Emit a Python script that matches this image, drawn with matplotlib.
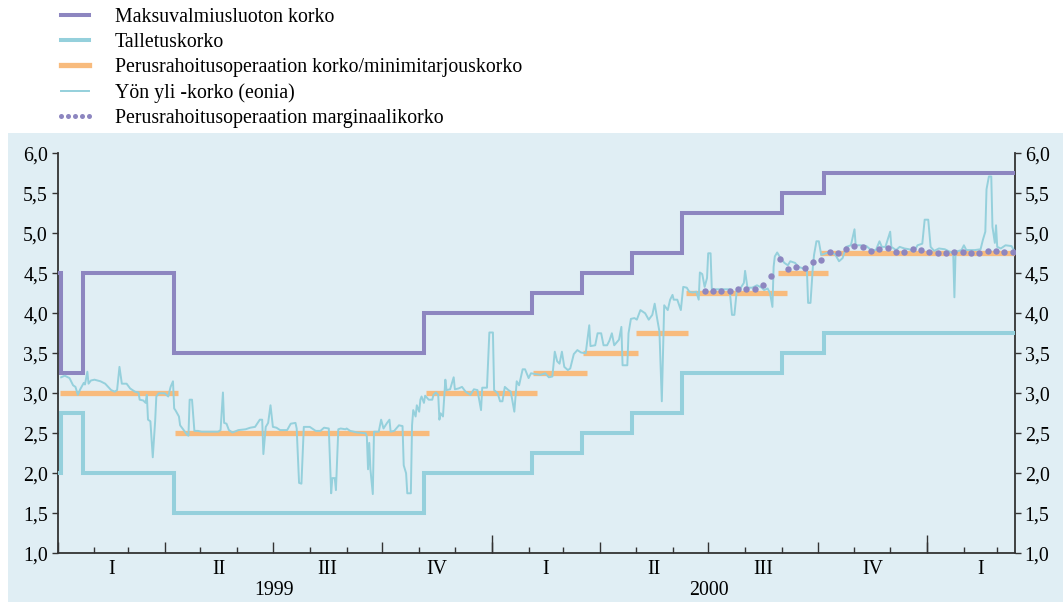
import numpy as np
import pandas as pd
import matplotlib
matplotlib.use("Agg")
from matplotlib import pyplot as plt
import matplotlib.dates as mdates
import matplotlib.transforms as mtransforms
from matplotlib.lines import Line2D
from matplotlib.patches import Rectangle
from matplotlib.ticker import FuncFormatter, FixedLocator

# Maksuvalmiusluoton korko ja talletuskorko (muutospäivät)
step_dates = ['1999-01-01', '1999-01-04', '1999-01-22', '1999-04-09', '1999-11-05',
              '2000-02-04', '2000-03-17', '2000-04-28', '2000-06-09', '2000-09-01',
              '2000-10-06']
mlf_rate = [4.50, 3.25, 4.50, 3.50, 4.00, 4.25, 4.50, 4.75, 5.25, 5.50, 5.75]
dep_rate = [2.00, 2.75, 2.00, 1.50, 2.00, 2.25, 2.50, 2.75, 3.25, 3.50, 3.75]
end_date = '2001-03-16'

# Perusrahoitusoperaation korko / minimitarjouskorko
mro_start = ['1999-01-03', '1999-04-10', '1999-11-07', '2000-02-05', '2000-03-18',
             '2000-05-01', '2000-06-12', '2000-08-29', '2000-10-03']
mro_end = ['1999-04-12', '1999-11-09', '2000-02-08', '2000-03-21', '2000-05-03',
           '2000-06-14', '2000-09-05', '2000-10-10', '2001-03-16']
mro_rate = [3.00, 2.50, 3.00, 3.25, 3.50, 3.75, 4.25, 4.50, 4.75]

# Marginaalikorko, viikoittain 28.6.2000 alkaen
marg_first = '2000-06-28'
marg_rate = [4.28, 4.28, 4.28, 4.28, 4.30, 4.30, 4.30, 4.35, 4.47, 4.68,
             4.55, 4.575, 4.56, 4.645, 4.67, 4.76, 4.75, 4.80, 4.84, 4.83,
             4.78, 4.80, 4.82, 4.76, 4.76, 4.80, 4.79, 4.76, 4.75, 4.75,
             4.76, 4.76, 4.75, 4.75, 4.78, 4.78, 4.76, 4.76]

# Eonia: päivä (1.1.1999 = 0) ja korko
eonia_day = [3, 6, 10, 13, 15, 17, 19, 22, 23, 25, 26, 28, 31, 36, 40, 45, 48, 50, 52, 54,
             58, 61, 65, 68, 69, 72, 74, 75, 76, 78, 80, 82, 83, 85, 90, 93, 95, 97, 98, 99,
             102, 103, 106, 109, 110, 111, 113, 115, 118, 121, 135, 137, 139, 140, 142, 144,
             147, 152, 158, 162, 166, 170, 172, 173, 175, 177, 179, 181, 184, 187, 193, 196,
             200, 201, 203, 205, 207, 212, 217, 221, 224, 228, 230, 231, 233, 234, 236, 238,
             242, 243, 246, 252, 259, 260, 261, 262, 263, 265, 266, 270, 272, 274, 277, 279,
             280, 283, 287, 290, 291, 293, 294, 297, 298, 299, 301, 302, 304, 305, 306, 308,
             309, 312, 315, 316, 318, 320, 321, 322, 324, 326, 327, 330, 333, 334, 337, 340,
             343, 347, 350, 353, 356, 357, 361, 363, 366, 367, 370, 372, 374, 376, 379, 381,
             384, 386, 388, 391, 393, 396, 398, 402, 406, 410, 413, 416, 418, 420, 422, 424,
             426, 429, 431, 434, 437, 440, 444, 447, 448, 452, 454, 457, 459, 462, 464, 466,
             468, 472, 474, 475, 479, 480, 482, 485, 487, 490, 494, 497, 500, 502, 504, 506,
             508, 510, 513, 515, 517, 518, 521, 524, 526, 529, 531, 534, 537, 539, 540, 542,
             544, 546, 547, 549, 550, 552, 559, 565, 567, 569, 571, 574, 577, 578, 580, 584,
             588, 592, 594, 597, 599, 601, 602, 603, 605, 607, 611, 614, 616, 620, 623, 627,
             630, 631, 633, 635, 636, 638, 640, 642, 646, 650, 654, 657, 660, 663, 667, 670,
             671, 675, 680, 684, 688, 691, 693, 696, 700, 701, 705, 708, 712, 716, 720, 723,
             727, 729, 732, 734, 737, 741, 746, 750, 753, 754, 755, 760, 762, 764, 771, 776,
             778, 780, 781, 783, 785, 786, 788, 789, 790, 793, 797, 802, 804]
eonia_rate = [3.20, 3.22, 3.19, 3.10, 3.08, 2.98, 3.05, 3.13, 3.11, 3.27, 3.12, 3.16, 3.17, 3.15,
              3.12, 3.04, 3.02, 3.04, 3.33, 3.12, 3.12, 3.06, 3.02, 3.01, 2.92, 2.91, 2.88, 2.98,
              2.67, 2.65, 2.20, 2.65, 2.96, 3.00, 3.00, 2.96, 3.08, 3.15, 2.81, 2.79, 2.71, 2.60,
              2.54, 2.48, 2.47, 2.92, 2.92, 2.53, 2.53, 2.52, 2.52, 2.54, 3.01, 2.63, 2.62, 2.54,
              2.51, 2.54, 2.55, 2.57, 2.58, 2.67, 2.67, 2.24, 2.58, 2.63, 2.85, 2.58, 2.57, 2.54,
              2.54, 2.62, 2.63, 2.56, 1.88, 1.87, 2.58, 2.58, 2.53, 2.53, 2.57, 2.56, 1.75, 1.94,
              1.94, 1.79, 2.55, 2.56, 2.55, 2.56, 2.53, 2.51, 2.50, 2.46, 2.05, 2.38, 2.05, 1.74,
              2.52, 2.52, 2.67, 2.56, 2.63, 2.67, 2.52, 2.53, 2.60, 2.59, 2.10, 2.00, 1.75, 1.75,
              2.60, 2.79, 2.71, 2.85, 2.77, 2.92, 2.96, 2.88, 2.97, 2.92, 2.92, 2.98, 3.01, 2.98,
              2.67, 2.75, 2.71, 3.17, 3.04, 3.05, 3.20, 3.05, 3.06, 3.08, 3.02, 2.98, 3.05, 3.04,
              2.79, 3.07, 3.07, 3.76, 3.76, 3.04, 3.00, 2.90, 2.90, 3.08, 3.04, 3.02, 2.77, 3.15,
              3.10, 3.30, 3.30, 3.19, 3.25, 3.24, 3.23, 3.25, 3.20, 3.21, 3.52, 3.40, 3.37, 3.52,
              3.33, 3.29, 3.31, 3.49, 3.54, 3.51, 3.50, 3.85, 3.59, 3.60, 3.75, 3.75, 3.60, 3.60,
              3.66, 3.75, 3.60, 3.67, 3.83, 3.35, 3.35, 3.75, 3.93, 3.94, 3.92, 4.04, 4.00, 3.92,
              3.98, 4.12, 3.94, 3.77, 2.90, 4.10, 4.04, 4.17, 4.23, 4.17, 4.17, 4.04, 4.33, 4.32,
              4.27, 4.26, 4.27, 4.17, 4.51, 4.49, 4.33, 4.44, 4.75, 4.75, 4.31, 4.30, 4.30, 4.30,
              3.98, 3.98, 4.28, 4.31, 4.38, 4.53, 4.32, 4.32, 4.35, 4.32, 4.29, 4.31, 4.25, 4.08,
              4.58, 4.71, 4.76, 4.71, 4.63, 4.60, 4.65, 4.63, 4.58, 4.56, 4.54, 4.13, 4.13, 4.58,
              4.73, 4.90, 4.90, 4.73, 4.75, 4.77, 4.73, 4.65, 4.69, 4.83, 4.85, 5.05, 4.85, 4.85,
              4.84, 4.79, 4.79, 4.90, 4.83, 4.83, 5.02, 4.83, 4.79, 4.83, 4.81, 4.80, 4.77, 4.85,
              4.87, 5.17, 5.17, 4.83, 4.78, 4.81, 4.80, 4.77, 4.75, 4.20, 4.77, 4.79, 4.85, 4.79,
              4.79, 4.80, 4.92, 5.02, 5.55, 5.71, 5.71, 5.08, 4.88, 5.10, 4.83, 4.81, 4.85, 4.84,
              4.79]

labels = ['Maksuvalmiusluoton korko', 'Talletuskorko',
          'Perusrahoitusoperaation korko/minimitarjouskorko',
          'Yön yli -korko (eonia)', 'Perusrahoitusoperaation marginaalikorko']
quarter_names = ['I', 'II', 'III', 'IV']
year_names = ['1999', '2000']

PURPLE = '#8d86c0'
TEAL = '#95d0dc'
ORANGE = '#f8bb7d'
BG = '#e0eef4'
AXIS = '#333333'

plt.rcParams['font.family'] = ['Liberation Serif', 'DejaVu Serif']
FS = 14.3

fig = plt.figure(figsize=(10.63, 6.02), dpi=100)
fig.patches.append(Rectangle((0.0075, 0), 0.9925, 0.779, transform=fig.transFigure,
                             facecolor=BG, edgecolor='none', zorder=-5))
ax = fig.add_axes([0.0542, 0.0809, 0.9007, 0.6645])
ax.set_facecolor('none')

x_step = pd.to_datetime(step_dates + [end_date])
ax.step(x_step, mlf_rate + [mlf_rate[-1]], where='post', color=PURPLE, lw=2.9,
        solid_joinstyle='miter', zorder=3)
ax.step(x_step, dep_rate + [dep_rate[-1]], where='post', color=TEAL, lw=2.9,
        solid_joinstyle='miter', zorder=3)
ax.hlines(mro_rate, pd.to_datetime(mro_start), pd.to_datetime(mro_end),
          colors=ORANGE, lw=3.8, zorder=4)

eonia_x = np.datetime64('1999-01-01') + np.array(eonia_day).astype('timedelta64[D]')
ax.plot(eonia_x, eonia_rate, color=TEAL, lw=1.4, zorder=5)

marg_x = pd.date_range(marg_first, periods=len(marg_rate), freq='7D')
ax.plot(marg_x, marg_rate, 'o', ms=4.6, color=PURPLE, mec='none', zorder=6)

# akselit
ax.set_xlim(pd.Timestamp('1999-01-01'), pd.Timestamp(end_date))
ax.set_ylim(1.0, 6.0)
ax.set_yticks(np.arange(1.0, 6.01, 0.5))
ax.yaxis.set_major_formatter(FuncFormatter(lambda v, p: f"{v:.1f}".replace('.', ',')))
ax.tick_params(axis='y', direction='out', length=4, width=1, color=AXIS,
               labelsize=FS, left=True, right=True, labelleft=True, labelright=True, pad=3)

for s in ['left', 'right', 'bottom']:
    ax.spines[s].set_color(AXIS)
    ax.spines[s].set_linewidth(1.3)
ax.spines['top'].set_visible(False)

months = pd.date_range('1999-01-01', '2001-03-01', freq='MS')
quarters = pd.date_range('1999-01-01', '2001-01-01', freq='QS')
ax.xaxis.set_minor_locator(FixedLocator(mdates.date2num(months)))
ax.xaxis.set_major_locator(FixedLocator(mdates.date2num(quarters)))
ax.xaxis.set_major_formatter(FuncFormatter(lambda v, p: ''))
ax.tick_params(axis='x', which='minor', direction='in', length=4, width=1, color=AXIS)
ax.tick_params(axis='x', which='major', direction='in', length=8, width=1, color=AXIS)

sec = ax.secondary_xaxis('bottom')
sec.spines['bottom'].set_visible(False)
sec.xaxis.set_major_locator(FixedLocator(mdates.date2num(pd.to_datetime(['2000-01-01', '2001-01-01']))))
sec.xaxis.set_minor_locator(FixedLocator([]))
sec.tick_params(axis='x', direction='in', length=13, width=1, color=AXIS, labelbottom=False)

trans = mtransforms.blended_transform_factory(ax.transData, ax.transAxes)
for i, q in enumerate(quarters):
    mid = q + (q + pd.offsets.QuarterBegin(startingMonth=1) - q) / 2
    ax.text(mid, -0.04, quarter_names[i % 4], transform=trans, ha='center', va='center',
            fontsize=FS)
for i, name in enumerate(year_names):
    mid = pd.Timestamp(f'{name}-07-02')
    ax.text(mid, -0.093, name, transform=trans, ha='center', va='center', fontsize=FS)

handles = [
    Line2D([], [], color=PURPLE, lw=2.9),
    Line2D([], [], color=TEAL, lw=2.9),
    Line2D([], [], color=ORANGE, lw=3.8),
    Line2D([], [], color=TEAL, lw=1.4),
    Line2D([], [], ls='none', marker='o', ms=3.6, color=PURPLE, mec='none'),
]
fig.legend(handles, labels, loc='upper left', bbox_to_anchor=(0.050, 0.990), frameon=False,
           fontsize=FS, handlelength=2.0, handletextpad=1.0, labelspacing=0.30,
           borderaxespad=0, borderpad=0.1, numpoints=5)

fig.savefig('out.png', dpi=100)
